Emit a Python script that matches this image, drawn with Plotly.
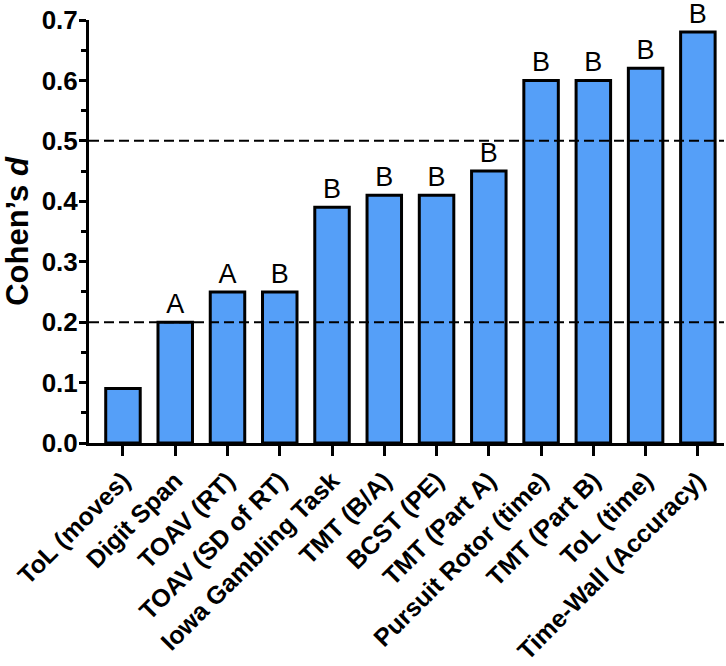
import plotly.graph_objects as go

categories = ["ToL (moves)", "Digit Span", "TOAV (RT)", "TOAV (SD of RT)",
              "Iowa Gambling Task", "TMT (B/A)", "BCST (PE)", "TMT (Part A)",
              "Pursuit Rotor (time)", "TMT (Part B)", "ToL (time)",
              "Time-Wall (Accuracy)"]
cohens_d = [0.09, 0.20, 0.25, 0.25, 0.39, 0.41, 0.41, 0.45, 0.60, 0.60, 0.62, 0.68]
groups = ["", "A", "A", "B", "B", "B", "B", "B", "B", "B", "B", "B"]
ref_lines = [0.2, 0.5]
y_ticks = [0.0, 0.1, 0.2, 0.3, 0.4, 0.5, 0.6, 0.7]
y_minor = [0.05, 0.15, 0.25, 0.35, 0.45, 0.55, 0.65]

FONT = "Liberation Sans, Arial, Helvetica, sans-serif"
xpos = list(range(len(categories)))

fig = go.Figure()
fig.add_trace(go.Bar(
    x=xpos, y=cohens_d, width=0.66,
    marker=dict(color="#559FF8", line=dict(color="black", width=3)),
    text=groups, textposition="outside", cliponaxis=False,
    constraintext="none",
    textfont=dict(family=FONT, size=27, color="black"),
    hoverinfo="skip",
))

for v in ref_lines:
    fig.add_shape(type="line", xref="paper", x0=0, x1=1, yref="y", y0=v, y1=v,
                  line=dict(color="black", width=2, dash="10px,5px"), layer="above")

fig.update_layout(
    width=726, height=666,
    margin=dict(l=89, r=2, t=20, b=223),
    plot_bgcolor="white", paper_bgcolor="white",
    showlegend=False,
    font=dict(family=FONT, color="black"),
)
fig.update_xaxes(
    range=[-0.65, 11.5], tickmode="array", tickvals=xpos, ticktext=categories,
    tickangle=-45, tickfont=dict(family=FONT, size=25, color="black", weight="bold"),
    showline=True, linecolor="black", linewidth=3,
    ticks="outside", ticklen=10, tickwidth=3, tickcolor="black",
    showgrid=False, zeroline=False, automargin=False,
)
fig.update_yaxes(
    range=[0, 0.7], tickmode="array", tickvals=y_ticks,
    ticktext=[f"{v:.1f}" for v in y_ticks],
    tickfont=dict(family=FONT, size=26, color="black", weight="bold"),
    ticklabelstandoff=-4,
    showline=True, linecolor="black", linewidth=3,
    ticks="outside", ticklen=7, tickwidth=3, tickcolor="black",
    minor=dict(tickvals=y_minor, ticks="outside", ticklen=5, tickwidth=3,
               tickcolor="black"),
    showgrid=False, zeroline=False, automargin=False,
    title=dict(text="<b>Cohen’s <i>d</i></b>",
               font=dict(family=FONT, size=31, color="black"), standoff=22),
)

fig.write_html("out.html", config={"displayModeBar": False},
               post_script="document.body.style.margin='0';")
